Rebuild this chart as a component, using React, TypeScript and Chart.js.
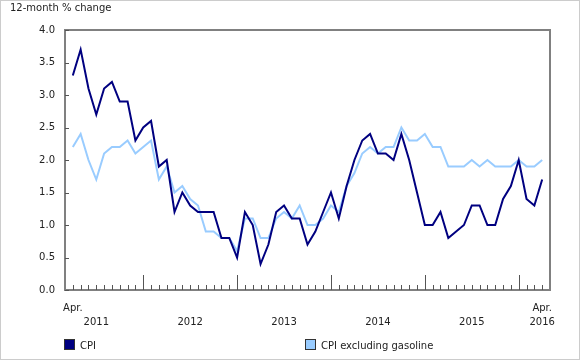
import React, { useEffect, useRef } from "react";
import { Chart, registerables } from "chart.js";

Chart.register(...registerables);

// Monthly, April 2011 to April 2016 (61 months)
const cpi = [
  3.3, 3.7, 3.1, 2.7, 3.1, 3.2, 2.9, 2.9, 2.3,
  2.5, 2.6, 1.9, 2.0, 1.2, 1.5, 1.3, 1.2, 1.2, 1.2, 0.8, 0.8,
  0.5, 1.2, 1.0, 0.4, 0.7, 1.2, 1.3, 1.1, 1.1, 0.7, 0.9, 1.2,
  1.5, 1.1, 1.6, 2.0, 2.3, 2.4, 2.1, 2.1, 2.0, 2.4, 2.0, 1.5,
  1.0, 1.0, 1.2, 0.8, 0.9, 1.0, 1.3, 1.3, 1.0, 1.0, 1.4, 1.6,
  2.0, 1.4, 1.3, 1.7,
];
const cpiExGas = [
  2.2, 2.4, 2.0, 1.7, 2.1, 2.2, 2.2, 2.3, 2.1,
  2.2, 2.3, 1.7, 1.9, 1.5, 1.6, 1.4, 1.3, 0.9, 0.9, 0.8, 0.8,
  0.6, 1.1, 1.1, 0.8, 0.8, 1.1, 1.2, 1.1, 1.3, 1.0, 1.0, 1.1,
  1.3, 1.2, 1.6, 1.8, 2.1, 2.2, 2.1, 2.2, 2.2, 2.5, 2.3, 2.3,
  2.4, 2.2, 2.2, 1.9, 1.9, 1.9, 2.0, 1.9, 2.0, 1.9, 1.9, 1.9,
  2.0, 1.9, 1.9, 2.0,
];
// index of January in each year (major tick marks)
const januaryIndex = [9, 21, 33, 45, 57];
const yearLabels = ["2011", "2012", "2013", "2014", "2015", "2016"];
const yearLabelIndex = [3, 15, 27, 39, 51, 60];
const monthLabels = ["Apr.", "Apr."];
const monthLabelIndex = [0, 60];
const yTicks = [0, 0.5, 1, 1.5, 2, 2.5, 3, 3.5, 4];
const seriesNames = ["CPI", "CPI excluding gasoline"];
const seriesColors = ["#000080", "#99ccff"];

const FAMILY = "'DejaVu Sans', Verdana, sans-serif";
const FONT = "10px " + FAMILY;

const decorPlugin = {
  id: "decor",
  beforeDraw(chart: any) {
    const ctx = chart.ctx;
    ctx.save();
    ctx.fillStyle = "#ffffff";
    ctx.fillRect(0, 0, chart.width, chart.height);
    ctx.strokeStyle = "#cccccc";
    ctx.lineWidth = 1;
    ctx.strokeRect(0.5, 0.5, chart.width - 1, chart.height - 1);
    ctx.restore();
  },
  afterDraw(chart: any) {
    const ctx = chart.ctx;
    const { left, right, top, bottom } = chart.chartArea;
    const xs = chart.scales.x;
    const ys = chart.scales.y;
    ctx.save();
    // frame
    ctx.strokeStyle = "#808080";
    ctx.lineWidth = 2;
    ctx.strokeRect(left, top, right - left, bottom - top);
    // y ticks (inward)
    ctx.lineWidth = 1;
    ctx.strokeStyle = "#555555";
    yTicks.forEach((v) => {
      const y = Math.round(ys.getPixelForValue(v)) + 0.5;
      ctx.beginPath();
      ctx.moveTo(left, y);
      ctx.lineTo(left + 4, y);
      ctx.stroke();
    });
    // x ticks (inward)
    for (let i = 0; i < cpi.length; i++) {
      const x = Math.round(xs.getPixelForValue(i)) + 0.5;
      const len = januaryIndex.includes(i) ? 15 : 5;
      ctx.beginPath();
      ctx.moveTo(x, bottom);
      ctx.lineTo(x, bottom - len);
      ctx.stroke();
    }
    // texts
    ctx.fillStyle = "#222222";
    ctx.font = FONT;
    ctx.textBaseline = "alphabetic";
    ctx.textAlign = "left";
    ctx.fillText("12-month % change", 10, 11);
    ctx.textAlign = "center";
    monthLabels.forEach((t, k) => {
      ctx.fillText(t, xs.getPixelForValue(monthLabelIndex[k]), 311);
    });
    yearLabels.forEach((t, k) => {
      ctx.fillText(t, xs.getPixelForValue(yearLabelIndex[k]), 325);
    });
    // legend
    const legendX = [64, 305];
    ctx.textAlign = "left";
    seriesNames.forEach((name, k) => {
      const x = legendX[k];
      ctx.fillStyle = seriesColors[k];
      ctx.fillRect(x, 339, 11, 11);
      ctx.strokeStyle = "#333333";
      ctx.lineWidth = 1;
      ctx.strokeRect(x + 0.5, 339.5, 10, 10);
      ctx.fillStyle = "#222222";
      ctx.fillText(name, x + 16, 349);
    });
    ctx.restore();
  },
};

export default function App() {
  const ref = useRef<HTMLCanvasElement | null>(null);
  useEffect(() => {
    document.body.style.margin = "0";
    const canvas = ref.current;
    if (!canvas) return;
    const chart = new Chart(canvas, {
      type: "line",
      data: {
        datasets: [
          {
            label: seriesNames[0],
            data: cpi.map((v, i) => ({ x: i, y: v })),
            borderColor: seriesColors[0],
            backgroundColor: seriesColors[0],
            borderWidth: 2,
            pointRadius: 0,
            tension: 0,
          },
          {
            label: seriesNames[1],
            data: cpiExGas.map((v, i) => ({ x: i, y: v })),
            borderColor: seriesColors[1],
            backgroundColor: seriesColors[1],
            borderWidth: 2,
            pointRadius: 0,
            tension: 0,
          },
        ],
      },
      options: {
        responsive: false,
        animation: false,
        events: [],
        layout: { padding: { top: 30, right: 30, bottom: 70, left: 0 } },
        plugins: { legend: { display: false }, tooltip: { enabled: false } },
        scales: {
          x: {
            type: "linear",
            min: -1,
            max: cpi.length,
            display: false,
          },
          y: {
            min: 0,
            max: 4,
            afterFit: (s: any) => {
              s.width = 65;
            },
            grid: { display: false, drawTicks: false },
            border: { display: false },
            ticks: {
              stepSize: 0.5,
              padding: 10,
              color: "#222222",
              font: { family: FAMILY, size: 10 },
              callback: (v: any) => Number(v).toFixed(1),
            },
          },
        },
      },
      plugins: [decorPlugin],
    });
    return () => chart.destroy();
  }, []);
  return (
    <div style={{ width: 580, height: 360 }}>
      <canvas ref={ref} width={580} height={360} style={{ display: "block" }} />
    </div>
  );
}
